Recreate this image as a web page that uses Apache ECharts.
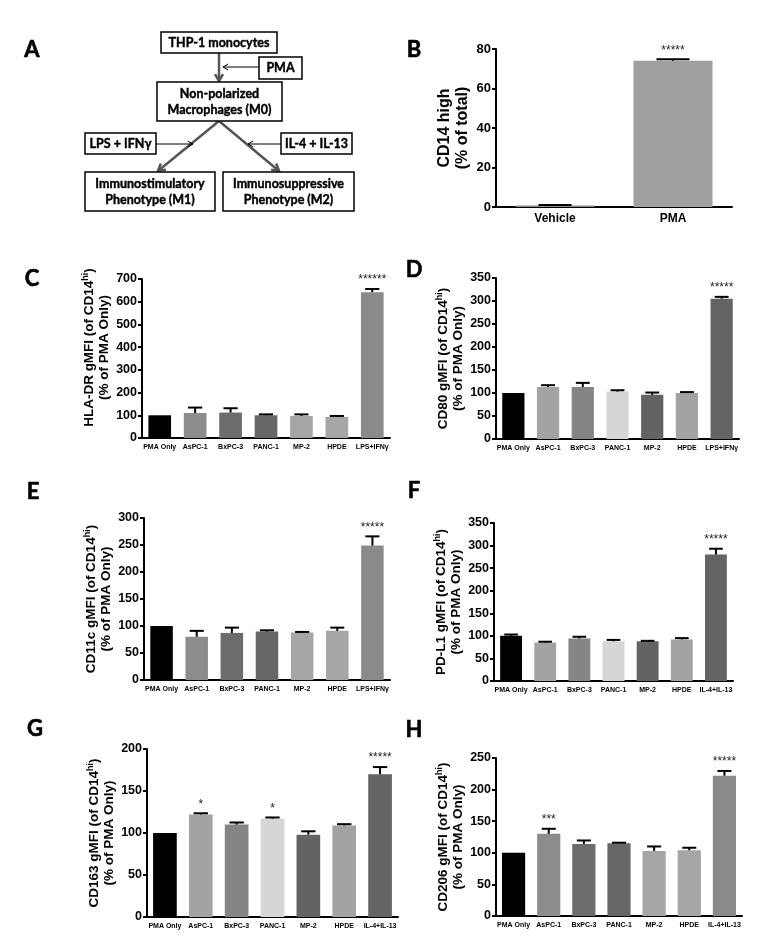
<!DOCTYPE html>
<html><head><meta charset="utf-8">
<script src="https://cdn.jsdelivr.net/npm/echarts@6/dist/echarts.min.js"></script>
<style>html,body{margin:0;padding:0;background:#fff}#c{width:782px;height:944px}</style>
</head><body><div id="c"></div>
<script>
// ---------- data ----------
const m1Categories = ['PMA Only','AsPC-1','BxPC-3','PANC-1','MP-2','HPDE','LPS+IFNγ'];
const m2Categories = ['PMA Only','AsPC-1','BxPC-3','PANC-1','MP-2','HPDE','IL-4+IL-13'];
const bCategories = ['Vehicle','PMA'];

const bValues = [0.8, 74];
const bErr = [0.2, 0.8];
const bStars = ['', '*****'];

const hlaValues = [100,110,112,100,97,93,642];
const hlaErr = [0,24,19,4,7,4,14];
const hlaStars = ['','','','','','','******'];

const cd80Values = [100,113,113,103,96,100,305];
const cd80Err = [0,4,9,3,5,2,4];
const cd80Stars = ['','','','','','','*****'];

const cd11cValues = [100,80,87,90,88,91,249];
const cd11cErr = [0,11,10,2,1,6,17];
const cd11cStars = ['','','','','','','*****'];

const pdl1Values = [100,85,94,88,88,92,280];
const pdl1Err = [3,2,4,3,1,3,13];
const pdl1Stars = ['','','','','','','*****'];

const cd163Values = [100,122,110,117,98,109,170];
const cd163Err = [0,1.5,2.5,1.5,4,1.5,8.5];
const cd163Stars = ['','*','','*','','','*****'];

const cd206Values = [100,130,114,115,103,104,222];
const cd206Err = [0,8,5.5,1,7,4,7.5];
const cd206Stars = ['','***','','','','','*****'];

// ---------- styles ----------
const paletteA = ['#000000','#8c8c8c','#6c6c6c','#666666','#a6a6a6','#a6a6a6','#8a8a8a'];
const paletteB = ['#000000','#a3a3a3','#858585','#d6d6d6','#636363','#a3a3a3','#646464'];
const AX = 'Liberation Sans, Arial, sans-serif';

const grids = [], xAxes = [], yAxes = [], series = [];

function addPanel(cfg) {
  const gi = grids.length;
  grids.push({left: cfg.rect[0], top: cfg.rect[1], width: cfg.rect[2], height: cfg.rect[3], outerBoundsMode: 'none', containLabel: false});
  xAxes.push({type: 'category', gridIndex: gi, data: cfg.categories,
    axisLine: {lineStyle: {color: '#000', width: 2}}, axisTick: {show: false},
    axisLabel: {interval: 0, color: '#000', fontFamily: AX, fontWeight: 'bold', fontSize: cfg.catFont, margin: cfg.catMargin}});
  yAxes.push({type: 'value', gridIndex: gi, min: 0, max: cfg.max, interval: cfg.interval,
    axisLine: {show: true, lineStyle: {color: '#000', width: 2}},
    axisTick: {show: true, length: 4, lineStyle: {color: '#000', width: 2}},
    axisLabel: {color: '#000', fontFamily: AX, fontWeight: 'bold', fontSize: cfg.tickFont, margin: 5},
    splitLine: {show: false},
    name: cfg.name, nameLocation: 'middle', nameRotate: 90, nameGap: cfg.nameGap,
    nameTextStyle: {color: '#000', fontFamily: AX, fontWeight: 'bold', fontSize: cfg.nameFont, lineHeight: cfg.nameFont + 2,
      padding: [0, 0, 0, cfg.nameShift || 0],
      rich: {n: {fontFamily: AX, fontWeight: 'bold', fontSize: cfg.nameFont, lineHeight: cfg.nameFont + 2, color: '#000'},
             s: {fontFamily: AX, fontWeight: 'bold', fontSize: 9, color: '#000', verticalAlign: 'top', lineHeight: cfg.nameFont + 2}}}});
  series.push({type: 'bar', xAxisIndex: gi, yAxisIndex: gi, barWidth: cfg.barWidth, silent: true,
    data: cfg.values.map((v, i) => ({value: v, itemStyle: {color: cfg.colors[i]}}))});
  const stars = cfg.stars;
  series.push({type: 'custom', xAxisIndex: gi, yAxisIndex: gi, silent: true, z: 5,
    data: cfg.values.map((v, i) => [i, v, cfg.err[i]]),
    renderItem: function (params, api) {
      const i = api.value(0), v = api.value(1), e = api.value(2);
      const base = api.coord([i, v]);
      const top = api.coord([i, v + e]);
      const band = api.size([1, 0])[0];
      const cap = band * cfg.capRatio / 2;
      const children = [];
      if (e > 0) {
        children.push({type: 'line', shape: {x1: base[0], y1: base[1], x2: top[0], y2: top[1]}, style: {stroke: '#000', lineWidth: 2}});
        children.push({type: 'line', shape: {x1: top[0] - cap, y1: top[1], x2: top[0] + cap, y2: top[1]}, style: {stroke: '#000', lineWidth: 2}});
      }
      const s = stars[params.dataIndex];
      if (s) {
        children.push({type: 'text', x: top[0], y: top[1] - 3,
          style: {text: s, align: 'center', verticalAlign: 'bottom', fill: '#222', font: cfg.starFont + 'px ' + AX}});
      }
      return {type: 'group', children: children};
    }});
}

function yName(title) {
  return '{n|' + title + ' (of CD14}{s|hi}{n|)}\n{n|(% of PMA Only)}';
}

addPanel({rect: [496, 49, 236, 158], categories: bCategories, values: bValues, err: bErr, stars: bStars,
  colors: ['#8a8a8a', '#a0a0a0'], max: 80, interval: 20, barWidth: '67%', capRatio: 0.28,
  name: '{n|CD14 high}\n{n|(% of total)}', nameGap: 24, nameFont: 16, tickFont: 13, catFont: 12, catMargin: 6, starFont: 12});
addPanel({rect: [142, 279, 248, 159], categories: m1Categories, values: hlaValues, err: hlaErr, stars: hlaStars,
  colors: paletteA, max: 700, interval: 100, barWidth: '64%', capRatio: 0.4, nameShift: 22,
  name: yName('HLA-DR gMFI'), nameGap: 27, nameFont: 13.5, tickFont: 12.5, catFont: 7, catMargin: 6, starFont: 12});
addPanel({rect: [496, 278, 243, 161], categories: m1Categories, values: cd80Values, err: cd80Err, stars: cd80Stars,
  colors: paletteB, max: 350, interval: 50, barWidth: '64%', capRatio: 0.4,
  name: yName('CD80 gMFI'), nameGap: 27, nameFont: 13.5, tickFont: 12.5, catFont: 7, catMargin: 6, starFont: 12});
addPanel({rect: [144, 518, 246, 162], categories: m1Categories, values: cd11cValues, err: cd11cErr, stars: cd11cStars,
  colors: paletteA, max: 300, interval: 50, barWidth: '64%', capRatio: 0.4,
  name: yName('CD11c gMFI'), nameGap: 27, nameFont: 13.5, tickFont: 12.5, catFont: 7, catMargin: 6, starFont: 12});
addPanel({rect: [494, 523, 239, 158], categories: m2Categories, values: pdl1Values, err: pdl1Err, stars: pdl1Stars,
  colors: paletteB, max: 350, interval: 50, barWidth: '64%', capRatio: 0.4,
  name: yName('PD-L1 gMFI'), nameGap: 27, nameFont: 13.5, tickFont: 12.5, catFont: 7, catMargin: 6, starFont: 12});
addPanel({rect: [147, 749, 251, 168], categories: m2Categories, values: cd163Values, err: cd163Err, stars: cd163Stars,
  colors: paletteB, max: 200, interval: 50, barWidth: '66%', capRatio: 0.4,
  name: yName('CD163 gMFI'), nameGap: 27, nameFont: 13.5, tickFont: 12.5, catFont: 7, catMargin: 6, starFont: 12});
addPanel({rect: [496, 758, 246, 158], categories: m2Categories, values: cd206Values, err: cd206Err, stars: cd206Stars,
  colors: paletteA, max: 250, interval: 50, barWidth: '66%', capRatio: 0.4,
  name: yName('CD206 gMFI'), nameGap: 27, nameFont: 13.5, tickFont: 12.5, catFont: 7, catMargin: 6, starFont: 12});

// ---------- panel A flowchart (diagram, not data) ----------
const FF = 'Lato, "Open Sans", sans-serif';
const elements = [];
function box(x1, y1, x2, y2, text) {
  elements.push({type: 'rect', shape: {x: x1, y: y1, width: x2 - x1, height: y2 - y1},
    style: {fill: '#fff', stroke: '#000', lineWidth: 1.5}, z: 10});
  elements.push({type: 'text', x: (x1 + x2) / 2, y: (y1 + y2) / 2, z: 11,
    style: {text: text, font: 'bold 12.5px ' + FF, fill: '#000', stroke: '#000', lineWidth: 0.4,
      align: 'center', verticalAlign: 'middle', lineHeight: 16}});
}
function arrow(x1, y1, x2, y2, color, width, L) {
  elements.push({type: 'line', shape: {x1: x1, y1: y1, x2: x2, y2: y2}, style: {stroke: color, lineWidth: width}, z: 9});
  const t = Math.atan2(y2 - y1, x2 - x1), a = Math.PI / 6;
  elements.push({type: 'polyline', z: 9, shape: {points: [
    [x2 - L * Math.cos(t - a), y2 - L * Math.sin(t - a)], [x2, y2], [x2 - L * Math.cos(t + a), y2 - L * Math.sin(t + a)]]},
    style: {stroke: color, lineWidth: width, fill: null}});
}
arrow(219, 53, 219, 81, '#555', 2.5, 8);
arrow(259, 67, 223, 67, '#000', 1, 6);
arrow(219, 121, 158, 171, '#555', 2.5, 8);
arrow(219, 121, 279, 171, '#555', 2.5, 8);
arrow(156, 144, 193, 144, '#000', 1, 6);
arrow(281, 144, 248, 144, '#000', 1, 6);
box(161, 32, 277, 53, 'THP-1 monocytes');
box(259, 57, 302, 79, 'PMA');
box(157, 82, 282, 121, 'Non-polarized\nMacrophages (M0)');
box(85, 133, 156, 154, 'LPS + IFNγ');
box(281, 133, 352, 154, 'IL-4 + IL-13');
box(85, 172, 215, 211, 'Immunostimulatory\nPhenotype (M1)');
box(223, 172, 354, 211, 'Immunosuppressive\nPhenotype (M2)');

const letters = [['A', 32, 50], ['B', 414, 50], ['C', 32, 279], ['D', 414, 270], ['E', 33, 492], ['F', 414, 491], ['G', 35, 729], ['H', 414, 730]];
letters.forEach(l => elements.push({type: 'text', x: l[1], y: l[2], z: 11,
  style: {text: l[0], font: 'bold 22px ' + FF, fill: '#000', stroke: '#000', lineWidth: 0.6, align: 'center', verticalAlign: 'middle'}}));

const chart = echarts.init(document.getElementById('c'), null, {renderer: 'canvas'});
chart.setOption({
  animation: false,
  backgroundColor: '#fff',
  grid: grids, xAxis: xAxes, yAxis: yAxes, series: series,
  graphic: {elements: elements}
});
</script></body></html>
